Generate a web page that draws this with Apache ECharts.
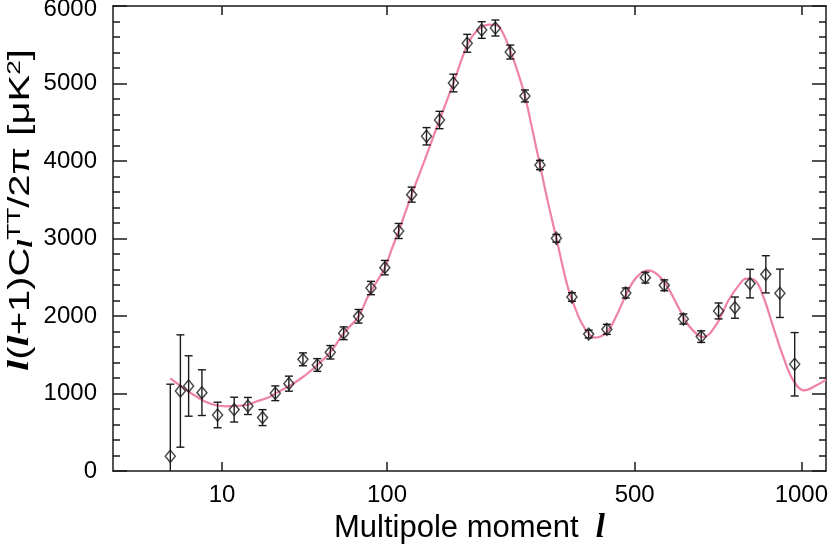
<!DOCTYPE html>
<html>
<head>
<meta charset="utf-8">
<script src="https://cdn.jsdelivr.net/npm/echarts@6/dist/echarts.min.js"></script>
<style>
  html, body { margin: 0; padding: 0; background: #fff; }
  #chart { width: 829px; height: 551px; }
</style>
</head>
<body>
<div id="chart"></div>
<script>
// binned TT spectrum
const ell   = [2, 3, 4, 6, 9, 13, 17, 22, 27, 33, 40, 48, 56, 65, 76, 86, 98, 111, 124, 140, 155, 172, 190, 210, 230, 253, 277, 303, 333, 363, 397, 436, 479, 526, 574, 625, 675, 726, 776, 824, 876, 924, 976];
const power = [190, 1032, 1097, 1011, 723, 792, 839, 689, 1003, 1127, 1441, 1368, 1532, 1777, 1996, 2361, 2624, 3097, 3566, 4319, 4529, 5006, 5519, 5690, 5716, 5406, 4839, 3948, 3003, 2245, 1767, 1828, 2297, 2495, 2396, 1961, 1734, 2065, 2108, 2418, 2538, 2293, 1377];
const err   = [930, 725, 390, 295, 165, 160, 110, 103, 95, 97, 83, 82, 87, 82, 88, 86, 93, 97, 97, 112, 112, 114, 115, 107, 103, 90, 77, 60, 50, 55, 50, 65, 65, 70, 70, 65, 75, 103, 137, 184, 240, 312, 409];

// best-fit model curve
const modelEll   = [2, 4, 6.6, 9, 11, 14, 17, 20, 24, 27, 33, 40, 48, 56, 65, 76, 84, 98, 104.5, 111, 124, 138.5, 155, 172, 190, 203, 220, 232, 242, 253, 266, 277, 290, 303, 318, 333, 353, 366, 383, 400, 411, 436, 458, 481, 505, 533, 559, 585, 611, 643, 681, 721, 756, 792, 812, 840, 868, 901, 936, 971, 1010, 1056, 1092];
const modelPower = [1195, 1025, 895, 845, 835, 842, 855, 900, 945, 1000, 1095, 1213, 1368, 1532, 1777, 1996, 2267, 2624, 2868, 3097, 3566, 4028, 4529, 5006, 5493, 5677, 5760, 5751, 5643, 5428, 5127, 4839, 4396, 3948, 3450, 3003, 2418, 2160, 1902, 1751, 1721, 1794, 2009, 2289, 2503, 2590, 2525, 2353, 2116, 1858, 1729, 1902, 2203, 2418, 2483, 2461, 2245, 1858, 1471, 1170, 1041, 1106, 1180];

const xTicks = [10, 100, 500, 1000];
const ellMax = 1092;

// the multipole axis is drawn in l^0.4 space
const toU = l => Math.pow(l, 0.4);
const fromU = u => Math.round(Math.pow(u, 2.5));

const FONT = 'Liberation Sans, Arial, Helvetica, sans-serif';
const SERIF = 'Liberation Serif, Times New Roman, serif';
const INK = '#1a1a1a';
const PINK = '#ee82a9';

const points = ell.map((l, i) => [toU(l), power[i]]);
const bars = ell.map((l, i) => [toU(l), power[i] - err[i], power[i] + err[i]]);
const model = modelEll.map((l, i) => [toU(l), modelPower[i]]);
const tickU = xTicks.map(toU);

const axisLine = { show: true, onZero: false, lineStyle: { color: INK, width: 1.5 } };

const xBase = {
  type: 'value',
  min: 0,
  max: toU(ellMax),
  splitLine: { show: false },
  axisLine: axisLine,
  axisTick: { show: true, inside: true, length: 9, customValues: tickU, lineStyle: { color: INK, width: 1.5 } }
};

const yBase = {
  type: 'value',
  min: 0,
  max: 6000,
  interval: 1000,
  splitLine: { show: false },
  axisLine: axisLine,
  axisTick: { show: true, inside: true, length: 14, lineStyle: { color: INK, width: 1.5 } },
  minorTick: { show: true, splitNumber: 5, length: 7, lineStyle: { color: INK, width: 1.5 } }
};

const lSym = { fontFamily: SERIF, fontStyle: 'italic', fontWeight: 'bold', color: '#000' };

const option = {
  animation: false,
  backgroundColor: '#fff',
  grid: { left: 113, right: 3, top: 6, bottom: 80, outerBoundsMode: 'none' },
  // y title, stretched along its length like the original
  graphic: [{
    type: 'text',
    x: 21,
    y: 210,
    rotation: Math.PI / 2,
    scaleX: 1.38,
    style: {
      text: '{l|l}({l|l}+1)C{sub|l}{sup|TT}/2π [μK{sup|2}]',
      fontFamily: FONT, fontSize: 29, fill: '#000',
      align: 'center', verticalAlign: 'middle',
      rich: {
        l: Object.assign({}, lSym, { fontSize: 29 }),
        sub: Object.assign({}, lSym, { fontSize: 20, padding: [12, 0, 0, 0] }),
        sup: { fontFamily: FONT, fontSize: 19, color: '#000', padding: [0, 0, 13, 0] }
      }
    }
  }],
  xAxis: [
    Object.assign({}, xBase, {
      position: 'bottom',
      axisLabel: {
        show: true, customValues: tickU, formatter: v => String(fromU(v)),
        fontFamily: FONT, fontSize: 24, color: '#000', margin: 12
      },
      name: 'Multipole moment  {l|l}',
      nameLocation: 'middle',
      nameGap: 41,
      nameTextStyle: { fontFamily: FONT, fontSize: 31, color: '#000', rich: { l: Object.assign({}, lSym, { fontSize: 33 }) } }
    }),
    Object.assign({}, xBase, { position: 'top', axisLabel: { show: false } })
  ],
  yAxis: [
    Object.assign({}, yBase, {
      position: 'left',
      axisLabel: {
        fontFamily: FONT, fontSize: 24, color: '#000', margin: 16,
        // top label nudged down so it stays inside the page
        formatter: v => (v === 6000 ? '{top|' + v + '}' : String(v)),
        rich: { top: { fontFamily: FONT, fontSize: 24, color: '#000', padding: [7, 0, 0, 0] } }
      }
    }),
    Object.assign({}, yBase, { position: 'right', axisLabel: { show: false } })
  ],
  series: [
    {
      type: 'line',
      data: model,
      smooth: 0.4,
      showSymbol: false,
      lineStyle: { color: PINK, width: 2.2 },
      z: 2
    },
    {
      type: 'custom',
      data: bars,
      clip: true,
      encode: { x: 0, y: [1, 2] },
      renderItem: (params, api) => {
        const u = api.value(0);
        const hi = api.coord([u, api.value(2)]);
        const lo = api.coord([u, api.value(1)]);
        const w = 4;
        const style = { stroke: INK, lineWidth: 1.4, fill: null };
        return {
          type: 'group',
          children: [
            { type: 'line', shape: { x1: hi[0], y1: hi[1], x2: lo[0], y2: lo[1] }, style: style },
            { type: 'line', shape: { x1: hi[0] - w, y1: hi[1], x2: hi[0] + w, y2: hi[1] }, style: style },
            { type: 'line', shape: { x1: lo[0] - w, y1: lo[1], x2: lo[0] + w, y2: lo[1] }, style: style }
          ]
        };
      },
      z: 3
    },
    {
      type: 'scatter',
      data: points,
      symbol: 'diamond',
      symbolSize: [10, 12],
      itemStyle: { color: 'rgba(0,0,0,0)', borderColor: INK, borderWidth: 1.5 },
      z: 4
    }
  ]
};

const chart = echarts.init(document.getElementById('chart'), null, { renderer: 'canvas' });
chart.setOption(option);
</script>
</body>
</html>
